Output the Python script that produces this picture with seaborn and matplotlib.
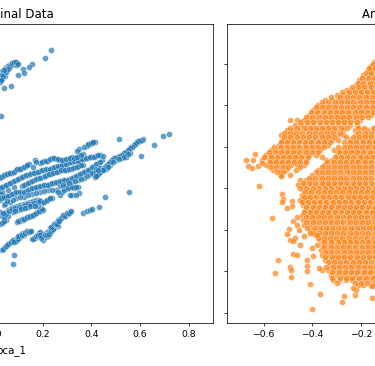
import pandas as pd
import matplotlib.pyplot as plt
import seaborn as sns

# values: (pca_1, pca_2)
orig_top = [(.233,.666),(.208,.627),(.155,.598),(.142,.584),(.118,.574),(.122,.555),(.097,.546),(.068,.492),(.040,.483),(.027,.348),
            (.093,.603),(.085,.603),(.077,.603),(.068,.598),(.060,.594),(.052,.584),(.044,.579),(.035,.570),(.027,.560),(.040,.555),
            (.044,.541),(.027,.536),(.023,.512),(.031,.526),(.023,.546),(.064,.584),(.052,.579),(.077,.598),(.089,.594),
            (.035,.560),(.043,.566),(.056,.590),(.066,.590),(.073,.604),(.081,.608),(.089,.606),(.098,.598),(.048,.572),(.031,.545),
            (.036,.538),(.050,.560),(.058,.572),(.026,.522),(.040,.567)]
orig_low = [(.031,-.298),(.044,-.283),(.052,-.274),(.064,-.264),(.072,-.255),(.085,-.250),(.093,-.240),(.101,-.230),(.109,-.221),(.118,-.216),
            (.130,-.211),(.138,-.211),(.147,-.206),(.089,-.255),(.105,-.235),(.122,-.226),(.081,-.322),(.077,-.365),
            (.155,-.245),(.167,-.240),(.175,-.230),(.184,-.216),(.196,-.230),(.200,-.250),(.212,-.235),(.220,-.230),(.229,-.216),(.237,-.201),
            (.229,-.192),(.241,-.182),(.249,-.168),(.258,-.163),(.270,-.148),(.278,-.139),(.286,-.134),(.295,-.124),(.303,-.124),(.311,-.115),
            (.262,-.182),(.245,-.192),(.216,-.211),(.204,-.221),(.188,-.211),
            (.365,-.120),(.381,-.110),(.393,-.105),(.401,-.100),(.430,-.091),(.455,-.042),(.554,-.018),
            (.093,-.163),(.105,-.158),(.118,-.153),(.130,-.143),(.142,-.139),(.155,-.134),(.167,-.124),(.179,-.115),(.192,-.110),(.200,-.105),
            (.037,-.291),(.048,-.279),(.058,-.268),(.068,-.260),(.078,-.248),(.082,-.258),(.097,-.245),(.098,-.232),(.113,-.228),(.126,-.218),
            (.134,-.205),(.143,-.212),(.151,-.208),(.160,-.243),(.171,-.233),(.180,-.224),(.190,-.224),(.192,-.240),(.208,-.228),(.216,-.224),
            (.225,-.222),(.233,-.207),(.241,-.195),(.235,-.186),(.245,-.175),(.254,-.171),(.264,-.155),(.274,-.146),(.282,-.129),(.290,-.136),
            (.300,-.118),(.308,-.122),(.315,-.110),(.258,-.175),(.268,-.160),(.098,-.160),(.112,-.150),(.124,-.149),(.136,-.138),(.148,-.132),
            (.160,-.128),(.173,-.118),(.185,-.112),(.196,-.102)]
orig_mid = [(.023,-.173),(.035,-.163),(.048,-.153),(.056,-.134),(.044,-.120),(.031,-.134),(.023,-.115),(.056,-.105),(.068,-.096),(.081,-.091),
            (.093,-.086),(.105,-.081),(.122,-.076),(.134,-.071),(.147,-.067),(.159,-.062),(.171,-.057),(.184,-.057),(.196,-.071),(.212,-.062),
            (.225,-.052),(.237,-.047),(.077,-.115),(.097,-.105),(.118,-.096),(.138,-.091),(.159,-.086),(.179,-.086),
            (.023,-.057),(.035,-.047),(.048,-.038),(.064,-.033),(.081,-.023),(.097,-.018),(.114,-.023),(.130,-.014),(.146,-.004),(.163,.001),
            (.179,.006),(.196,.010),(.212,.015),(.229,.020),(.245,.025),(.262,.030),(.278,.035),(.295,.039),(.311,.044),(.327,.054),
            (.344,.063),(.360,.073),(.377,.083),(.393,.092),(.410,.107),(.426,.121),(.443,.136),
            (.023,-.028),(.056,-.009),(.081,.006),(.039,-.081),(.064,-.067),(.089,-.047),(.122,-.043),(.155,-.028),(.188,-.018),(.221,-.009),
            (.253,-.009),(.270,-.033),(.278,-.018),(.295,-.004),(.311,.006),(.327,.001),(.344,.006),(.319,-.033),(.348,-.023),(.311,-.033),
            (.336,-.033),(.270,.010),(.295,.020),(.319,.030),(.344,.039),(.369,.049),(.393,.068),(.410,.083),(.426,.097),
            (.030,-.168),(.042,-.158),(.040,-.140),(.050,-.126),(.036,-.118),(.060,-.112),(.072,-.102),(.085,-.098),(.100,-.092),(.110,-.090),
            (.128,-.082),(.140,-.078),(.152,-.075),(.165,-.070),(.178,-.066),(.190,-.064),(.204,-.066),(.218,-.056),(.231,-.050),(.087,-.110),
            (.108,-.100),(.128,-.094),(.148,-.088),(.169,-.085),(.029,-.050),(.042,-.042),(.056,-.036),(.072,-.028),(.089,-.020),(.106,-.020),
            (.122,-.018),(.138,-.008),(.155,-.001),(.171,.004),(.188,.008),(.204,.013),(.220,.017),(.237,.023),(.254,.028),(.270,.033),
            (.286,.037),(.303,.041),(.319,.049),(.336,.058),(.352,.068),(.369,.078),(.385,.088),(.402,.100),(.418,.114),(.434,.128),
            (.030,-.020),(.045,-.075),(.052,-.060),(.077,-.056),(.105,-.045),(.138,-.035),(.172,-.023),(.204,-.013),(.237,-.009),(.262,-.020),
            (.286,-.011),(.303,.001),(.319,.004),(.336,.004),(.282,.015),(.307,.025),(.332,.035),(.357,.044),(.381,.058),(.402,.075),(.418,.090)]
orig_up = [(.023,.001),(.039,.010),(.056,.020),(.072,.030),(.089,.039),(.105,.049),(.122,.059),(.138,.063),(.155,.073),(.171,.078),
           (.188,.083),(.204,.088),(.221,.088),(.237,.097),(.253,.102),(.270,.107),(.286,.112),(.303,.121),(.319,.126),(.336,.131),
           (.352,.136),(.369,.141),(.385,.145),(.402,.150),(.418,.155),(.435,.160),(.447,.155),
           (.023,.049),(.035,.059),(.048,.068),(.060,.073),(.072,.073),(.089,.088),(.101,.092),(.114,.097),(.130,.107),(.142,.117),
           (.159,.102),(.167,.136),(.188,.121),(.204,.131),(.221,.131),(.237,.145),(.253,.141),(.270,.136),(.286,.136),(.307,.141),
           (.319,.150),(.332,.145),(.348,.155),(.365,.165),(.348,.189),(.381,.203),(.393,.213),(.402,.218),(.414,.223),(.385,.208),(.513,.237),
           (.114,.010),(.130,.020),(.146,.030),(.163,.039),(.179,.049),(.200,.054),(.216,.063),(.233,.068),(.249,.078),(.266,.083),
           (.282,.088),(.299,.088),(.315,.092),(.332,.102),(.348,.107),(.365,.112),
           (.031,.006),(.048,.015),(.064,.025),(.081,.034),(.097,.044),(.114,.054),(.130,.061),(.146,.068),(.163,.075),(.180,.080),
           (.196,.086),(.212,.090),(.229,.092),(.245,.100),(.262,.105),(.278,.110),(.295,.116),(.311,.124),(.327,.129),(.344,.133),
           (.360,.139),(.377,.143),(.394,.148),(.410,.152),(.426,.158),
           (.029,.054),(.042,.064),(.054,.070),(.066,.073),(.080,.080),(.095,.090),(.107,.094),(.122,.102),(.136,.112),(.172,.128),
           (.196,.126),(.213,.131),(.229,.138),(.245,.143),(.262,.139),(.278,.136),(.297,.139),(.313,.146),(.326,.147),(.340,.150),
           (.357,.160),(.340,.178),(.370,.198),(.387,.211),(.397,.216),(.408,.221),
           (.122,.015),(.138,.025),(.155,.034),(.171,.044),(.190,.051),(.208,.058),(.225,.066),(.241,.073),(.258,.080),(.274,.085),
           (.291,.088),(.307,.090),(.323,.097),(.340,.104),(.357,.110)]
orig_right = [(.611,.237),(.603,.232),(.595,.227),(.587,.223),(.579,.213),(.570,.203),(.562,.194),(.554,.189),(.546,.179),(.537,.170),
              (.529,.165),(.521,.160),(.513,.155),(.504,.150),(.496,.145),(.488,.141),(.480,.131),(.472,.121),(.463,.112),(.455,.102),
              (.447,.092),(.439,.083),(.430,.073),(.422,.063),(.414,.054),(.558,.170),(.541,.150),(.525,.145),(.500,.136),(.476,.112),
              (.459,.092),(.435,.097),(.418,.078),(.718,.261),(.694,.251),(.657,.208),(.603,.155),
              (.607,.234),(.599,.229),(.591,.225),(.583,.218),(.574,.208),(.566,.198),(.558,.191),(.550,.184),(.541,.175),(.533,.167),
              (.525,.162),(.517,.157),(.508,.152),(.500,.147),(.492,.143),(.484,.136),(.476,.126),(.467,.117),(.459,.107),(.451,.097),
              (.443,.088),(.435,.078),(.426,.068),(.418,.058),(.550,.165),(.533,.148),(.512,.141),(.488,.125),(.468,.102),(.447,.085),(.428,.086)]

# anonymized cloud, row by row: (pca_2, [pca_1...])
anon_rows = [
    (.608,[-.148,-.124]),(.589,[-.160,-.136]),(.570,[-.172,-.147,-.122]),(.545,[-.190,-.163,-.138]),
    (.521,[-.206,-.180,-.155,-.129]),(.497,[-.222,-.197,-.170,-.146,-.121]),
    (.473,[-.258,-.233,-.208,-.183,-.157,-.132]),(.449,[-.297,-.272,-.246,-.220,-.195,-.169,-.144]),
    (.425,[-.347,-.320,-.295,-.270,-.243,-.218,-.192,-.167,-.141]),
    (.401,[-.376,-.350,-.324,-.299,-.274,-.248,-.223,-.197,-.172,-.146,-.121]),
    (.377,[-.397,-.371,-.345,-.320,-.295,-.269,-.244,-.218,-.193,-.167,-.142]),
    (.353,[-.413,-.388,-.362,-.337,-.311,-.286,-.260,-.235,-.209,-.184,-.158,-.132]),
    (.329,[-.492,-.463,-.434,-.409,-.383,-.358,-.332,-.307,-.281,-.256,-.230,-.205,-.126]),
    (.305,[-.473,-.447,-.421,-.396,-.370,-.345,-.319,-.294,-.268,-.243,-.217,-.132]),
    (.280,[-.505,-.480,-.454,-.428,-.403,-.377,-.352,-.326,-.301,-.275,-.224,-.198,-.173,-.147,-.121]),
    (.256,[-.530,-.505,-.479,-.453,-.428,-.402,-.377,-.351,-.326,-.300,-.274,-.222,-.197,-.171,-.145]),
    (.232,[-.525,-.500,-.474,-.449,-.423,-.398,-.372,-.347,-.321,-.296,-.246,-.220,-.195,-.169,-.144]),
    (.208,[-.538,-.512,-.487,-.461,-.436,-.410,-.385,-.360,-.334,-.257,-.232,-.206,-.181,-.155,-.130]),
    (.184,[-.572,-.546,-.521,-.495,-.470,-.444,-.419,-.393,-.368,-.310,-.284,-.258,-.233,-.207,-.182,-.156,-.131]),
    (.160,[-.590,-.565,-.539,-.514,-.488,-.463,-.437,-.412,-.386,-.300,-.274,-.249,-.223,-.198,-.172,-.147,-.121]),
    (.136,[-.606,-.580,-.555,-.529,-.504,-.478,-.453,-.427,-.345,-.320,-.294,-.269,-.243,-.218,-.192,-.167,-.141]),
    (.112,[-.590,-.563,-.538,-.512,-.487,-.461,-.436,-.350,-.324,-.299,-.273,-.248,-.222,-.197,-.171,-.146]),
    (.088,[-.560,-.534,-.509,-.466,-.375,-.349,-.323,-.298,-.272,-.247,-.221,-.196,-.170,-.145]),
    (.063,[-.530,-.492,-.400,-.374,-.348,-.323,-.297,-.272,-.246,-.221,-.195,-.170,-.144]),
    (.039,[-.451,-.425,-.400,-.374,-.349,-.323,-.298,-.272,-.247,-.221,-.196,-.170,-.145,-.119]),
    (.015,[-.458,-.433,-.407,-.382,-.356,-.331,-.305,-.280,-.254,-.229,-.203,-.178,-.152,-.127]),
    (-.009,[-.440,-.415,-.389,-.364,-.338,-.313,-.287,-.262,-.236,-.211,-.185,-.160,-.134]),
    (-.033,[-.442,-.417,-.391,-.366,-.340,-.315,-.289,-.264,-.238,-.213,-.187,-.162,-.136]),
    (-.057,[-.451,-.425,-.400,-.374,-.349,-.323,-.298,-.272,-.247,-.221,-.196,-.170,-.145,-.119]),
    (-.081,[-.438,-.412,-.387,-.361,-.336,-.310,-.285,-.259,-.234,-.208,-.183,-.157,-.132]),
    (-.105,[-.430,-.404,-.379,-.353,-.328,-.302,-.277,-.251,-.226,-.200,-.175,-.149,-.124]),
    (-.129,[-.442,-.416,-.391,-.365,-.340,-.314,-.289,-.263,-.238,-.212,-.187,-.161,-.136]),
    (-.153,[-.438,-.412,-.387,-.361,-.336,-.310,-.285,-.259,-.234,-.208,-.183,-.157,-.132]),
    (-.178,[-.434,-.408,-.383,-.357,-.332,-.306,-.281,-.255,-.230,-.204,-.179,-.153,-.128]),
    (-.202,[-.411,-.385,-.360,-.334,-.309,-.283,-.258,-.232,-.207,-.181,-.156,-.130]),
    (-.226,[-.389,-.364,-.338,-.313,-.287,-.262,-.236,-.211,-.185,-.160,-.134]),
    (-.250,[-.368,-.342,-.317,-.291,-.266,-.240,-.215,-.189,-.164,-.138]),
    (-.274,[-.360,-.334,-.309,-.283,-.258,-.232,-.207,-.181,-.156,-.130]),
    (-.298,[-.364,-.338,-.313,-.287,-.262,-.236,-.211,-.185,-.160,-.134]),
    (-.322,[-.360,-.334,-.309,-.283,-.258,-.232,-.207,-.181,-.156,-.130]),
    (-.346,[-.348,-.322,-.297,-.271,-.246,-.220,-.195,-.169,-.144]),
    (-.370,[-.327,-.301,-.276,-.250,-.225,-.199,-.174,-.148,-.123]),
    (-.394,[-.360,-.335,-.309,-.284,-.258,-.233,-.207,-.182,-.156,-.131]),
    (-.419,[-.325,-.299,-.274,-.248,-.223,-.197,-.172,-.146]),
    (-.443,[-.315,-.290,-.262,-.238,-.213,-.187,-.162,-.136]),
    (-.467,[-.212,-.190,-.160,-.130]),
]
anon_rows2 = [
    (.596,[-.150,-.129]),(.579,[-.166,-.141,-.126]),(.557,[-.181,-.157,-.130]),(.533,[-.197,-.171,-.146,-.122]),
    (.509,[-.214,-.190,-.162,-.137]),(.485,[-.238,-.210,-.186,-.160,-.134]),
    (.461,[-.277,-.250,-.226,-.200,-.176,-.150,-.125]),
    (.437,[-.322,-.285,-.259,-.234,-.207,-.181,-.156,-.130]),
    (.413,[-.362,-.334,-.308,-.283,-.256,-.231,-.205,-.180,-.154,-.129]),
    (.389,[-.386,-.360,-.335,-.308,-.283,-.257,-.231,-.206,-.180,-.155,-.130]),
    (.365,[-.405,-.380,-.352,-.328,-.302,-.277,-.252,-.226,-.201,-.175,-.150,-.124]),
    (.341,[-.426,-.400,-.374,-.349,-.323,-.298,-.272,-.247,-.221,-.196,-.170,-.130]),
    (.317,[-.452,-.420,-.396,-.370,-.345,-.319,-.294,-.268,-.243,-.218,-.125]),
    (.292,[-.490,-.462,-.436,-.410,-.385,-.360,-.334,-.309,-.283,-.257,-.210,-.186,-.150,-.128]),
    (.268,[-.518,-.492,-.466,-.441,-.415,-.390,-.364,-.339,-.313,-.288,-.211,-.185,-.159,-.133]),
    (.244,[-.515,-.490,-.464,-.438,-.413,-.387,-.362,-.336,-.311,-.260,-.234,-.208,-.183,-.157,-.131]),
    (.220,[-.530,-.506,-.480,-.455,-.429,-.404,-.378,-.353,-.327,-.270,-.244,-.219,-.193,-.167,-.142]),
    (.196,[-.556,-.530,-.505,-.478,-.453,-.428,-.402,-.377,-.351,-.296,-.270,-.245,-.219,-.194,-.169,-.143,-.120]),
    (.172,[-.580,-.555,-.530,-.504,-.479,-.453,-.428,-.402,-.376,-.292,-.266,-.241,-.215,-.190,-.164,-.139]),
    (.148,[-.598,-.572,-.547,-.522,-.496,-.470,-.445,-.419,-.360,-.307,-.282,-.256,-.231,-.205,-.180,-.154,-.128]),
    (.124,[-.575,-.550,-.525,-.500,-.474,-.449,-.424,-.338,-.312,-.286,-.261,-.235,-.210,-.184,-.159,-.133]),
    (.100,[-.575,-.548,-.522,-.498,-.452,-.362,-.336,-.311,-.285,-.260,-.234,-.209,-.183,-.157,-.132]),
    (.076,[-.545,-.520,-.385,-.361,-.335,-.310,-.284,-.259,-.233,-.208,-.182,-.157,-.131]),
    (.051,[-.415,-.388,-.362,-.336,-.311,-.285,-.260,-.234,-.208,-.183,-.157,-.132]),
    (.027,[-.438,-.413,-.387,-.362,-.336,-.311,-.285,-.260,-.234,-.209,-.183,-.158,-.132]),
    (.003,[-.450,-.424,-.398,-.373,-.347,-.322,-.296,-.271,-.245,-.220,-.194,-.169,-.143,-.122]),
    (-.021,[-.430,-.404,-.378,-.353,-.327,-.302,-.276,-.251,-.225,-.200,-.174,-.149,-.123]),
    (-.045,[-.434,-.408,-.383,-.357,-.332,-.306,-.281,-.255,-.230,-.204,-.179,-.153,-.128]),
    (-.069,[-.444,-.418,-.393,-.367,-.342,-.316,-.291,-.265,-.240,-.214,-.189,-.163,-.138]),
    (-.093,[-.424,-.398,-.373,-.347,-.322,-.296,-.271,-.245,-.220,-.194,-.169,-.143,-.120]),
    (-.117,[-.436,-.410,-.385,-.359,-.334,-.308,-.283,-.257,-.232,-.206,-.181,-.155,-.130]),
    (-.141,[-.428,-.402,-.377,-.351,-.326,-.300,-.275,-.249,-.224,-.198,-.173,-.147,-.122]),
    (-.165,[-.425,-.399,-.374,-.348,-.323,-.297,-.272,-.246,-.221,-.195,-.170,-.144,-.120]),
    (-.190,[-.420,-.395,-.370,-.344,-.319,-.293,-.268,-.242,-.217,-.191,-.166,-.140]),
    (-.214,[-.398,-.374,-.348,-.323,-.297,-.272,-.246,-.221,-.195,-.170,-.144,-.120]),
    (-.238,[-.376,-.352,-.327,-.301,-.276,-.250,-.225,-.199,-.174,-.148,-.124]),
    (-.262,[-.350,-.322,-.296,-.271,-.245,-.220,-.194,-.169,-.143,-.120]),
    (-.286,[-.350,-.325,-.299,-.274,-.248,-.223,-.197,-.172,-.146,-.122]),
    (-.310,[-.348,-.322,-.297,-.271,-.246,-.220,-.195,-.169,-.144,-.120]),
    (-.334,[-.346,-.320,-.295,-.269,-.244,-.218,-.193,-.167,-.142]),
    (-.358,[-.336,-.311,-.285,-.260,-.234,-.209,-.183,-.158,-.133]),
    (-.382,[-.345,-.316,-.290,-.265,-.239,-.214,-.188,-.163,-.137]),
    (-.406,[-.320,-.291,-.266,-.240,-.215,-.189,-.164,-.138]),
    (-.431,[-.318,-.286,-.260,-.235,-.207,-.180,-.150,-.125]),
    (-.455,[-.300,-.226,-.200,-.175,-.148]),
]
anon_out = [(-.673,.136),(-.636,.165),(-.644,.136),(-.665,.107),(-.648,.097),(-.623,.107),(-.607,.121),(-.619,.011),(-.529,.059),
            (-.525,-.028),(-.521,-.052),(-.525,-.067),(-.484,-.062),(-.484,-.086),(-.504,-.096),(-.566,-.144),(-.463,-.139),(-.479,-.158),
            (-.463,-.178),(-.496,-.197),(-.504,-.221),(-.455,-.202),(-.471,-.240),(-.492,-.250),(-.479,-.255),(-.451,-.274),(-.434,-.231),
            (-.409,-.216),(-.381,-.226),(-.401,-.288),(-.381,-.274),(-.479,-.317),(-.463,-.322),(-.422,-.346),(-.397,-.327),(-.541,-.346),
            (-.492,-.380),(-.488,-.395),(-.488,-.428),(-.422,-.375),(-.422,-.399),(-.372,-.385),(-.553,-.409),(-.409,-.462),(-.368,-.510),
            (-.270,-.520),(-.224,-.515),(-.278,-.549),(-.154,-.529),(-.401,-.582),(-.220,-.491),(-.232,-.481),(-.154,-.472)]

y_ticks = [-0.6, -0.4, -0.2, 0.0, 0.2, 0.4, 0.6]

orig_pts = orig_top + orig_low + orig_mid + orig_up + orig_right
orig_df = pd.DataFrame(orig_pts, columns=['pca_1', 'pca_2'])
anon_pts = [(x, y) for y, xs in anon_rows + anon_rows2 for x in xs] + anon_out
anon_df = pd.DataFrame(anon_pts, columns=['pca_1', 'pca_2'])

fig = plt.figure(figsize=(375.01 / 67, 366.01 / 67), dpi=67)
ax1 = fig.add_axes([-187 / 375, 43 / 366, 400 / 375, 299 / 366])
ax2 = fig.add_axes([227 / 375, 43 / 366, 400 / 375, 299 / 366], sharey=ax1)

sns.scatterplot(data=orig_df, x='pca_1', y='pca_2', ax=ax1, alpha=0.7, color='#1f77b4', s=42, linewidth=0.5)
sns.scatterplot(data=anon_df, x='pca_1', y='pca_2', ax=ax2, alpha=0.7, color='#ff7f0e', s=42, linewidth=0.5)

ax1.set_xlim(-0.746, 0.9)
ax2.set_xlim(-0.751, 0.895)
ax1.set_ylim(-0.65, 0.791)
ax1.set_yticks(y_ticks)
ax2.tick_params(labelleft=False)
ax2.set_ylabel('')
ax1.set_xlabel('pca_1', labelpad=7, x=0.495, fontsize=11)
ax2.set_xlabel('pca_1', labelpad=7, fontsize=11)
ax1.set_title('Original Data', x=0.5025, fontsize=12.7)
ax2.set_title('Anonymized Data', x=0.47, fontsize=12.7)

fig.savefig('out.png', dpi=67)
